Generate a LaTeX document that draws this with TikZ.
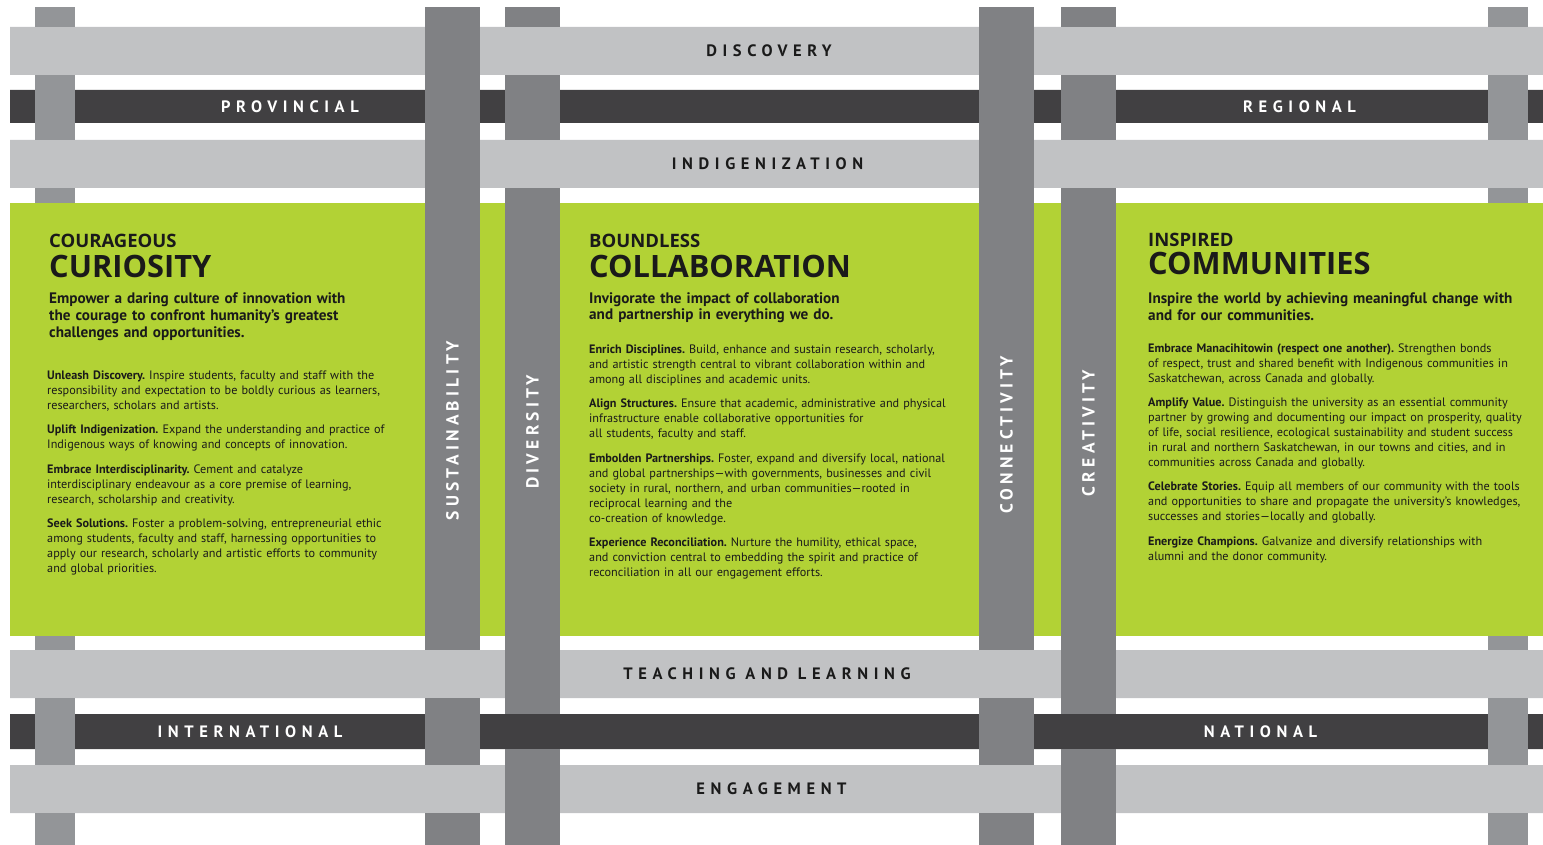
\documentclass[tikz,border=0pt]{standalone}
\usepackage{fontspec}
\setmainfont{PT Sans}
\newfontfamily\bandfont{PT Sans}[LetterSpace=34]
\newfontfamily\uprightbandfont{PT Sans}[LetterSpace=24]
\newfontfamily\headfont{Open Sans}
\definecolor{barlight}{HTML}{C1C2C4}
\definecolor{bardark}{HTML}{414042}
\definecolor{barmid}{HTML}{808184}
\definecolor{barthin}{HTML}{939598}
\definecolor{panelgreen}{HTML}{B2D235}
\definecolor{inkblack}{HTML}{1A1A1A}
\tikzset{
  band/.style={inner sep=0pt,text=inkblack,font=\bandfont\bfseries\fontsize{16.5}{16.5}\selectfont},
  darkband/.style={band,text=white},
  vband/.style={inner sep=0pt,text=white,rotate=90,font=\uprightbandfont\bfseries\fontsize{17.5}{17.5}\selectfont},
  kicker/.style={anchor=base west,inner sep=0pt,text=inkblack,font=\headfont\bfseries\fontsize{18.5}{18.5}\selectfont},
  title/.style={anchor=base west,inner sep=0pt,text=inkblack,font=\headfont\bfseries\fontsize{30.8}{30.8}\selectfont},
  tagline/.style={anchor=base west,inner sep=0pt,text width=440pt,align=left,text=inkblack,font=\bfseries\fontsize{15.2}{16.7}\selectfont},
  body/.style={anchor=base west,inner sep=0pt,text width=440pt,align=left,text=inkblack,font=\frenchspacing\fontsize{12.2}{15}\selectfont}
}
\begin{document}
\begin{tikzpicture}[x=1pt,y=-1pt]
	\useasboundingbox (0,0) rectangle (1543,845);
	\fill[barlight] (10,27) rectangle (1543,75) (10,140) rectangle (1543,188)
		(10,650) rectangle (1543,698) (10,765) rectangle (1543,813);
	\fill[bardark] (10,90) rectangle (1543,123) (10,714) rectangle (1543,749);
	\fill[panelgreen] (10,203) rectangle (1543,636);
	% the weave: each upright bar only where it lies on top
	\foreach \xa/\xb in {425/480,979/1034}
		\foreach \ya/\yb in {7/650,698/765,813/845}
			\fill[barmid] (\xa,\ya) rectangle (\xb,\yb);
	\foreach \xa/\xb in {505/560,1061/1116}
		\foreach \ya/\yb in {7/27,75/140,188/714,749/845}
			\fill[barmid] (\xa,\ya) rectangle (\xb,\yb);
	\foreach \xa/\xb in {35/75,1488/1528}
		\foreach \ya/\yb in {7/27,75/140,188/203,636/650,698/765,813/845}
			\fill[barthin] (\xa,\ya) rectangle (\xb,\yb);
	\node[band] (discovery) at (769,51) {DISCOVERY};
	\node[darkband] (provincial) at (290,106.5) {PROVINCIAL};
	\node[darkband] (regional) at (1299.5,107) {REGIONAL};
	\node[band] (indigenization) at (767.5,164) {INDIGENIZATION};
	\node[band] (teaching) at (767,674) {TEACHING AND LEARNING};
	\node[darkband] (international) at (250,731.5) {INTERNATIONAL};
	\node[darkband] (national) at (1260.5,731.5) {NATIONAL};
	\node[band] (engagement) at (771.5,789) {ENGAGEMENT};
	\node[vband] (sustainability) at (452.5,431) {SUSTAINABILITY};
	\node[vband] (diversity) at (532.5,432) {DIVERSITY};
	\node[vband] (connectivity) at (1006.5,435) {CONNECTIVITY};
	\node[vband] (creativity) at (1088.5,433) {CREATIVITY};
	\node[kicker] (curiosity-kicker) at (49,248) {COURAGEOUS};
	\node[title] (curiosity-title) at (49,277) {CURIOSITY};
	\node[tagline] (curiosity-tag) at (49,304) {Empower a daring culture of innovation with\\
		the courage to confront humanity’s greatest\\
		challenges and opportunities.};
	\node[body] (curiosity-body) at (47,379) {\textbf{Unleash Discovery.} Inspire students, faculty and staff with the\\
		responsibility and expectation to be boldly curious as learners,\\
		researchers, scholars and artists.\\[9.5pt]
		\textbf{Uplift Indigenization.} Expand the understanding and practice of\\
		Indigenous ways of knowing and concepts of innovation.\\[9.5pt]
		\textbf{Embrace Interdisciplinarity.} Cement and catalyze\\
		interdisciplinary endeavour as a core premise of learning,\\
		research, scholarship and creativity.\\[9.5pt]
		\textbf{Seek Solutions.} Foster a problem-solving, entrepreneurial ethic\\
		among students, faculty and staff, harnessing opportunities to\\
		apply our research, scholarly and artistic efforts to community\\
		and global priorities.};
	\node[kicker] (collaboration-kicker) at (589,248) {BOUNDLESS};
	\node[title] (collaboration-title) at (589,277) {COLLABORATION};
	\node[tagline] (collaboration-tag) at (589,303) {Invigorate the impact of collaboration\\
		and partnership in everything we do.};
	\node[body] (collaboration-body) at (589,353) {\textbf{Enrich Disciplines.} Build, enhance and sustain research, scholarly,\\
		and artistic strength central to vibrant collaboration within and\\
		among all disciplines and academic units.\\[9.5pt]
		\textbf{Align Structures.} Ensure that academic, administrative and physical\\
		infrastructure enable collaborative opportunities for\\
		all students, faculty and staff.\\[9.5pt]
		\textbf{Embolden Partnerships.} Foster, expand and diversify local, national\\
		and global partnerships—with governments, businesses and civil\\
		society in rural, northern, and urban communities—rooted in\\
		reciprocal learning and the\\
		co-creation of knowledge.\\[9.5pt]
		\textbf{Experience Reconciliation.} Nurture the humility, ethical space,\\
		and conviction central to embedding the spirit and practice of\\
		reconciliation in all our engagement efforts.};
	\node[kicker] (communities-kicker) at (1148,247) {INSPIRED};
	\node[title] (communities-title) at (1148,275) {COMMUNITIES};
	\node[tagline] (communities-tag) at (1148,304) {Inspire the world by achieving meaningful change with\\
		and for our communities.};
	\node[body] (communities-body) at (1148,352) {\textbf{Embrace Manacihitowin (respect one another).} Strengthen bonds\\
		of respect, trust and shared benefit with Indigenous communities in\\
		Saskatchewan, across Canada and globally.\\[9.5pt]
		\textbf{Amplify Value.} Distinguish the university as an essential community\\
		partner by growing and documenting our impact on prosperity, quality\\
		of life, social resilience, ecological sustainability and student success\\
		in rural and northern Saskatchewan, in our towns and cities, and in\\
		communities across Canada and globally.\\[9.5pt]
		\textbf{Celebrate Stories.} Equip all members of our community with the tools\\
		and opportunities to share and propagate the university’s knowledges,\\
		successes and stories—locally and globally.\\[9.5pt]
		\textbf{Energize Champions.} Galvanize and diversify relationships with\\
		alumni and the donor community.};
\end{tikzpicture}
\end{document}
